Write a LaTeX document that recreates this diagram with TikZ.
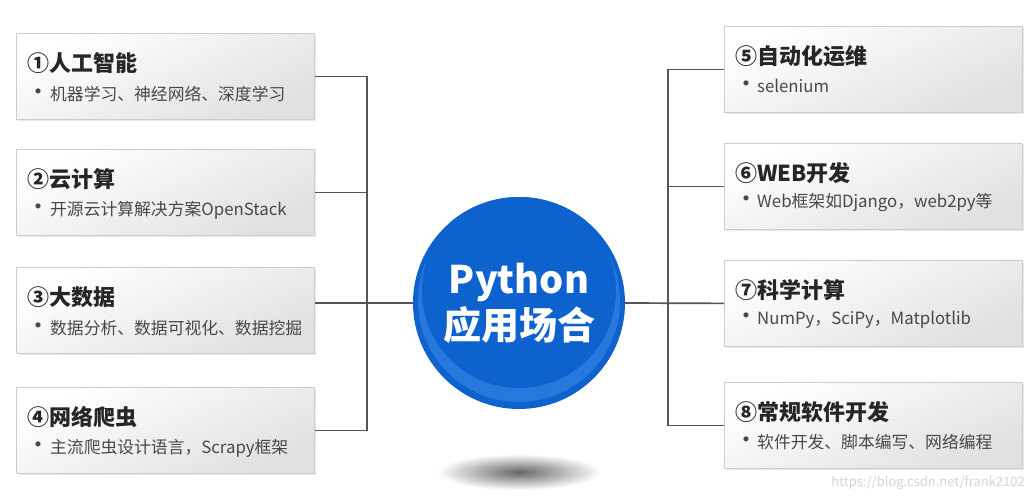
\documentclass[tikz,border=0pt]{standalone}
\usepackage{fontspec}
\setmainfont{Noto Sans CJK SC}
\usetikzlibrary{shadows}
\definecolor{pyblue}{RGB}{14,98,205}
\definecolor{pyring}{RGB}{38,120,220}
\definecolor{boxgray}{RGB}{224,224,224}
\definecolor{boxline}{RGB}{205,205,205}
\definecolor{connline}{RGB}{85,85,85}
\definecolor{ttlcol}{RGB}{38,38,38}
\definecolor{subcol}{RGB}{72,72,72}
\definecolor{wmcol}{RGB}{212,212,212}
\newcommand{\bul}[1]{\makebox[#1][l]{\fontsize{24}{18}\selectfont •}}
\begin{document}
\begin{tikzpicture}[x=1pt,y=-1pt,
  appbox/.style={draw=boxline, line width=.8pt, top color=white, bottom color=boxgray, shading angle=25,
    minimum width=298pt, minimum height=86pt, inner sep=0pt, anchor=north west,
    drop shadow={opacity=.18, shadow xshift=1.5pt, shadow yshift=-1.5pt}},
  ttl/.style={anchor=west, inner sep=0pt, font=\fontsize{22}{24}\selectfont\bfseries, text=ttlcol},
  sub/.style={anchor=west, inner sep=0pt, font=\fontsize{16.8}{18}\selectfont, text=subcol},
  conn/.style={draw=connline, line width=1.7pt}]
\fill[white] (0,0) rectangle (1035,500);
\useasboundingbox (0,0) rectangle (1035,500);
% left side
\node[appbox] (b1) at (16,33){};
\node[ttl] (t1) at ([shift={(11,30)}]b1.north west){①人工智能};
\node[sub] (s1) at ([shift={(10,61)}]b1.north west){\bul{24pt}机器学习、神经网络、深度学习};
\node[appbox] (b2) at (16,149){};
\node[ttl] (t2) at ([shift={(11,30)}]b2.north west){②云计算};
\node[sub] (s2) at ([shift={(10,61)}]b2.north west){\bul{24pt}开源云计算解决方案OpenStack};
\node[appbox] (b3) at (16,267){};
\node[ttl] (t3) at ([shift={(11,30)}]b3.north west){③大数据};
\node[sub] (s3) at ([shift={(10,61)}]b3.north west){\bul{24pt}数据分析、数据可视化、数据挖掘};
\node[appbox] (b4) at (16,387){};
\node[ttl] (t4) at ([shift={(11,30)}]b4.north west){④网络爬虫};
\node[sub] (s4) at ([shift={(10,61)}]b4.north west){\bul{24pt}主流爬虫设计语言，Scrapy框架};
% right side
\node[appbox] (b5) at (724,26){};
\node[ttl] (t5) at ([shift={(11,30)}]b5.north west){⑤自动化运维};
\node[sub] (s5) at ([shift={(10,60)}]b5.north west){\bul{23pt}selenium};
\node[appbox] (b6) at (724,143){};
\node[ttl] (t6) at ([shift={(11,30)}]b6.north west){⑥WEB开发};
\node[sub] (s6) at ([shift={(10,60)}]b6.north west){\bul{23pt}Web框架如Django，web2py等};
\node[appbox] (b7) at (724,260){};
\node[ttl] (t7) at ([shift={(11,30)}]b7.north west){⑦科学计算};
\node[sub] (s7) at ([shift={(10,60)}]b7.north west){\bul{23pt}NumPy，SciPy，Matplotlib};
\node[appbox] (b8) at (724,382){};
\node[ttl] (t8) at ([shift={(11,30)}]b8.north west){⑧常规软件开发};
\node[sub] (s8) at ([shift={(10,60)}]b8.north west){\bul{23pt}软件开发、脚本编写、网络编程};
% centre
\coordinate (pc) at (519,303);
\shade[inner color=black!60, outer color=white] ([shift={(0,169)}]pc) ellipse[x radius=82pt, y radius=18pt];
\fill[pyblue] (pc) circle[radius=106pt];
\begin{scope}
\clip (pc) circle[radius=106pt];
\fill[pyring] ([shift={(0,-2)}]pc) circle[radius=101pt];
\fill[pyblue] ([shift={(0,-12)}]pc) circle[radius=97pt];
\end{scope}
\node[circle, minimum size=212pt, inner sep=0pt, text=white, align=center,
  font=\fontsize{38}{46}\selectfont\bfseries] (py) at (pc){Python\\应用场合};
\coordinate (jl) at (367,303);
\coordinate (jr) at (668,303);
\draw[conn] (b1.east) -| (jl) |- (b4.east);
\draw[conn] (b2.east) -- (b2.east -| jl);
\draw[conn] (py.west) -- (py.west -| b3.east);
\draw[conn] (b5.west) -| (jr) |- (b8.west);
\draw[conn] (b6.west) -- (b6.west -| jr);
\draw[conn] (py.east) -- (b7.west);
\node[anchor=east, inner sep=0pt, font=\fontsize{13}{14}\selectfont, text=wmcol] (wm) at (1025,483){https://blog.csdn.net/frank2102};
\end{tikzpicture}
\end{document}
